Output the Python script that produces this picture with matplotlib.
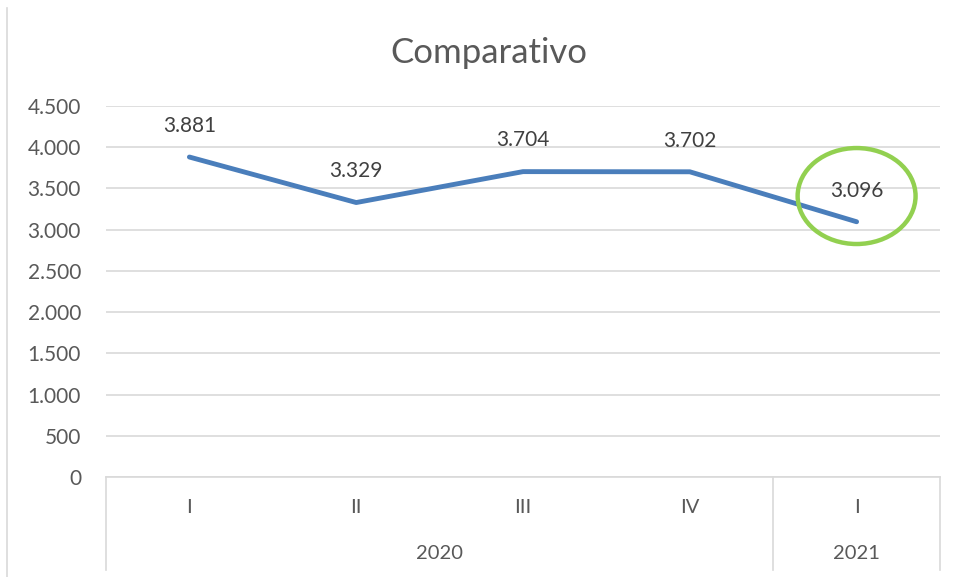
import matplotlib
matplotlib.use("Agg")
import matplotlib.pyplot as plt
from matplotlib.patches import Ellipse
from matplotlib.lines import Line2D

plt.rcParams['font.family'] = ['Lato', 'DejaVu Sans']

quarters = ["I", "II", "III", "IV", "I"]
years = ["2020", "2021"]
year_spans = [4, 1]
values = [3881, 3329, 3704, 3702, 3096]
title = "Comparativo"

fig = plt.figure(figsize=(9.57, 5.77), dpi=100)
ax = fig.add_axes([106/957, 100/577, 834/957, 371/577])

x = list(range(len(values)))
ax.plot(x, values, color="#4A7EBB", lw=3.5, solid_capstyle="round", solid_joinstyle="round", zorder=3)

def fmt(v):
    return f"{v:,}".replace(",", ".")

for xi, v in zip(x, values):
    ax.annotate(fmt(v), (xi, v), xytext=(0, 22.5), textcoords="offset points",
                ha="center", va="center", fontsize=15, color="#404040")

ax.set_xlim(-0.5, len(values) - 0.5)
ax.set_ylim(0, 4500)
yt = list(range(0, 4501, 500))
ax.set_yticks(yt)
ax.set_yticklabels([fmt(t) for t in yt], fontsize=15, color="#595959")
ax.tick_params(axis="y", length=0, pad=18)
ax.set_xticks([])
ax.grid(axis="y", color="#D9D9D9", lw=1.2)
ax.set_axisbelow(True)
for s in ["top", "right", "left"]:
    ax.spines[s].set_visible(False)
ax.spines["bottom"].set_color("#D9D9D9")
ax.spines["bottom"].set_linewidth(1.2)

tr = ax.get_xaxis_transform()
for xi, q in zip(x, quarters):
    ax.text(xi, -0.083, q, transform=tr, ha="center", va="center", fontsize=14.5, color="#595959")

# group separators and year labels
bounds = [-0.5]
for sp in year_spans:
    bounds.append(bounds[-1] + sp)
for b in bounds:
    ax.plot([b, b], [0, -0.25], transform=tr, color="#D9D9D9", lw=1.2, clip_on=False)
for i, yr in enumerate(years):
    mid = (bounds[i] + bounds[i + 1]) / 2
    ax.text(mid, -0.205, yr, transform=tr, ha="center", va="center", fontsize=14.5, color="#595959")

# highlight ellipse
ell = Ellipse((4, 3408), width=0.707, height=1164, fill=False, edgecolor="#92D050", lw=3.2, clip_on=False, zorder=4)
ax.add_patch(ell)

fig.text(489/957, 1 - 53/577, title, ha="center", va="center", fontsize=25, color="#595959")

fig.add_artist(Line2D([7/957, 7/957], [0, 1 - 8/577], transform=fig.transFigure, color="#D9D9D9", lw=1.2))

fig.savefig("out.png", dpi=100)
